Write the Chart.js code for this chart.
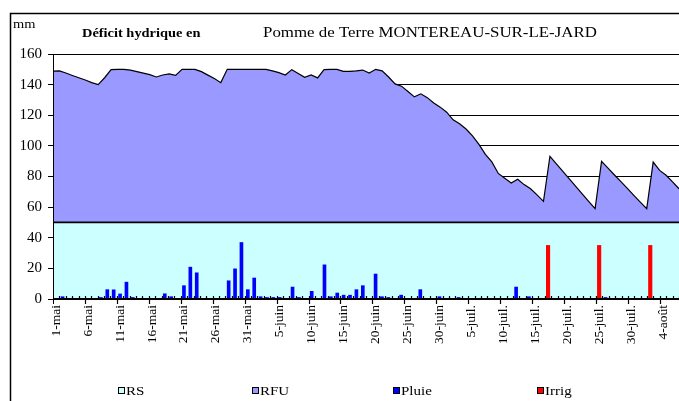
<!DOCTYPE html>
<html>
<head>
<meta charset="utf-8">
<script src="https://cdn.jsdelivr.net/npm/chart.js@4/dist/chart.umd.min.js"></script>
<style>
  html, body { margin: 0; padding: 0; background: #fff; }
  #wrap { width: 679px; height: 401px; overflow: hidden; }
</style>
</head>
<body>
<div id="wrap"><canvas id="grafico" width="679" height="401"></canvas></div>
<script>
// dates du 1-mai au 6-août
var mois = [['mai', 31], ['juin', 30], ['juil.', 31], ['août', 6]];
var dates = [];
mois.forEach(function(m) {
  for (var j = 1; j <= m[1]; j++) dates.push(j + '-' + m[0]);
});

// niveau de la RS (mm)
var niveauRS = 50;

// RFU : courbe du déficit hydrique (mm)
var rfu = [
  148.8, 149, 147.6, 146, 144.5, 143, 141.3, 140, 144.5, 149.8,
  150, 150, 149.5, 148.5, 147.5, 146.5, 145, 146.3, 147, 146,
  150, 150, 150, 148.5, 146.2, 144, 141.3, 150, 150, 150,
  150, 150, 150, 150, 149, 147.8, 146.3, 149.8, 147.3, 144.8,
  146.3, 144.4, 149.8, 150, 150, 148.7, 148.7, 149, 149.5, 147.5,
  150, 149, 145, 140.5, 139, 135.5, 132, 134, 131.5, 128,
  125.3, 122, 117, 114.5, 111, 106.5, 101, 94.5, 89.5, 82,
  78.8, 75.8, 78.2, 74.7, 72, 68, 63.8, 93.2, 88.3, 83.4,
  78.5, 73.6, 68.7, 63.8, 59, 89.9, 85.5, 81, 76.6, 72.2,
  67.7, 63.3, 59, 89.4, 84, 80.8, 76.5, 72
];

// pluie journalière (mm)
var pluie = [
  0, 1.5, 0, 0, 0, 0, 0, 1, 6.1, 6,
  3.3, 11, 1, 0, 0, 0, 0, 3.4, 1.5, 0,
  8.7, 20.8, 17.1, 0, 0, 0, 0, 11.9, 19.7, 36.9,
  6.1, 13.7, 1.5, 1, 1, 1, 0, 7.8, 1, 0,
  5, 0, 22.3, 1.5, 3.9, 2.5, 2.5, 6.1, 8.7, 0,
  16.3, 1.5, 1, 0, 2.5, 0, 0, 6.1, 0, 0,
  1.5, 0, 0, 1, 0, 0, 0, 0, 0, 0,
  0, 0, 7.8, 0, 1.5, 0, 0, 0, 0, 0,
  0, 0, 0, 0, 0, 0, 1, 0, 0, 0,
  0, 0, 0, 0, 0, 0, 0, 0
];

// irrigations (mm)
var irrig = [
  0, 0, 0, 0, 0, 0, 0, 0, 0, 0,
  0, 0, 0, 0, 0, 0, 0, 0, 0, 0,
  0, 0, 0, 0, 0, 0, 0, 0, 0, 0,
  0, 0, 0, 0, 0, 0, 0, 0, 0, 0,
  0, 0, 0, 0, 0, 0, 0, 0, 0, 0,
  0, 0, 0, 0, 0, 0, 0, 0, 0, 0,
  0, 0, 0, 0, 0, 0, 0, 0, 0, 0,
  0, 0, 0, 0, 0, 0, 0, 35, 0, 0,
  0, 0, 0, 0, 0, 35, 0, 0, 0, 0,
  0, 0, 0, 35, 0, 0, 0, 0
];

var yTicks = [0, 20, 40, 60, 80, 100, 120, 140, 160];

var serif = '"Liberation Serif", "Times New Roman", serif';
Chart.defaults.font.family = serif;
Chart.defaults.color = '#000';

// texte étiré horizontalement comme dans l'original
function texte(ctx, str, x, y, font, sx) {
  ctx.save();
  ctx.font = font;
  ctx.fillStyle = '#000';
  ctx.textBaseline = 'alphabetic';
  ctx.textAlign = 'left';
  ctx.translate(x, y);
  ctx.scale(sx, 1);
  ctx.fillText(str, 0, 0);
  ctx.restore();
}

// axes, graduations, titres, légende et cadre
var habillage = {
  id: 'habillage',
  afterDatasetsDraw: function(chart) {
    var ctx = chart.ctx;
    var a = chart.chartArea;
    var xs = chart.scales.x;
    ctx.save();
    ctx.strokeStyle = '#000';
    // graduations mineures (intérieur) et majeures (extérieur)
    ctx.lineWidth = 1.2;
    for (var i = 1; i <= dates.length; i++) {
      var px = Math.round(xs.getPixelForValue(i - 0.5)) + 0.5;
      ctx.beginPath();
      ctx.moveTo(px, a.bottom - 3);
      ctx.lineTo(px, a.bottom);
      if (i % 5 === 0) ctx.lineTo(px, a.bottom + 5);
      ctx.stroke();
    }
    // axe des x
    ctx.lineWidth = 2;
    ctx.beginPath();
    ctx.moveTo(a.left, a.bottom);
    ctx.lineTo(a.right, a.bottom);
    ctx.stroke();
    // axe des y
    ctx.lineWidth = 1;
    ctx.beginPath();
    ctx.moveTo(a.left + 0.5, a.top);
    ctx.lineTo(a.left + 0.5, a.bottom + 5);
    ctx.stroke();
    ctx.restore();
  },
  afterDraw: function(chart) {
    var ctx = chart.ctx;
    ctx.save();
    // cadre
    ctx.strokeStyle = '#000';
    ctx.lineWidth = 1.5;
    ctx.beginPath();
    ctx.moveTo(10.5, 401);
    ctx.lineTo(10.5, 13.5);
    ctx.lineTo(679, 13.5);
    ctx.stroke();
    // titres
    texte(ctx, 'mm', 13, 28, '12px ' + serif, 1.2);
    texte(ctx, 'Déficit hydrique en', 82, 36.5, 'bold 12px ' + serif, 1.2);
    texte(ctx, 'Pomme de Terre MONTEREAU-SUR-LE-JARD', 263, 37, '15px ' + serif, 1.125);
    // légende
    var legendX = [118, 252, 393, 537];
    chart.data.datasets.forEach(function(d, k) {
      var lx = legendX[k];
      ctx.fillStyle = d.legendColor;
      ctx.fillRect(lx, 387, 6, 6);
      ctx.strokeStyle = '#000';
      ctx.lineWidth = 1;
      ctx.strokeRect(lx + 0.5, 387.5, 6, 6);
      texte(ctx, d.label, lx + 8, 395, '12px ' + serif, 1.25);
    });
    ctx.restore();
  }
};

var ctx = document.getElementById('grafico');
var chart = new Chart(ctx, {
  type: 'bar',
  data: {
    labels: dates,
    datasets: [{
      type: 'line',
      label: 'RS',
      xAxisID: 'xa',
      data: dates.map(function() { return niveauRS; }),
      backgroundColor: '#CCFFFF',
      legendColor: '#CCFFFF',
      borderColor: '#000',
      borderWidth: 1.8,
      fill: 'origin',
      pointRadius: 0,
      order: 3
    }, {
      type: 'line',
      label: 'RFU',
      xAxisID: 'xa',
      data: rfu,
      backgroundColor: '#9999FF',
      legendColor: '#9999FF',
      borderColor: '#000',
      borderWidth: 1.2,
      fill: { value: niveauRS },
      pointRadius: 0,
      order: 4
    }, {
      label: 'Pluie',
      data: pluie,
      backgroundColor: '#0000FF',
      legendColor: '#0000FF',
      barThickness: 3,
      grouped: false,
      order: 2
    }, {
      label: 'Irrig',
      data: irrig,
      backgroundColor: '#FF0000',
      legendColor: '#FF0000',
      barThickness: 3.5,
      grouped: false,
      order: 1
    }]
  },
  options: {
    responsive: false,
    animation: false,
    layout: { padding: { left: 21, right: 0, top: 54, bottom: 42 } },
    plugins: {
      legend: { display: false },
      tooltip: { enabled: false }
    },
    scales: {
      x: {
        type: 'category',
        offset: true,
        grid: { display: false, drawTicks: false },
        border: { display: false },
        ticks: {
          autoSkip: false,
          minRotation: 90,
          maxRotation: 90,
          padding: 6,
          font: { size: 13.5 },
          color: '#000'
        },
        afterBuildTicks: function(s) {
          s.ticks = s.ticks.filter(function(t) { return t.value % 5 === 0; });
        },
        afterFit: function(s) {
          s.height = 60;
          s.paddingLeft = 0;
          s.paddingRight = 0;
        }
      },
      xa: {
        type: 'category',
        offset: false,
        display: false
      },
      y: {
        min: 0,
        max: 160,
        afterBuildTicks: function(s) {
          s.ticks = yTicks.map(function(v) { return { value: v }; });
        },
        grid: { color: '#000', lineWidth: 1, tickLength: 5 },
        border: { display: false },
        ticks: { padding: 6, font: { size: 15 }, color: '#000' },
        afterFit: function(s) { s.width = 32; }
      }
    }
  },
  plugins: [habillage]
});
</script>
</body>
</html>
